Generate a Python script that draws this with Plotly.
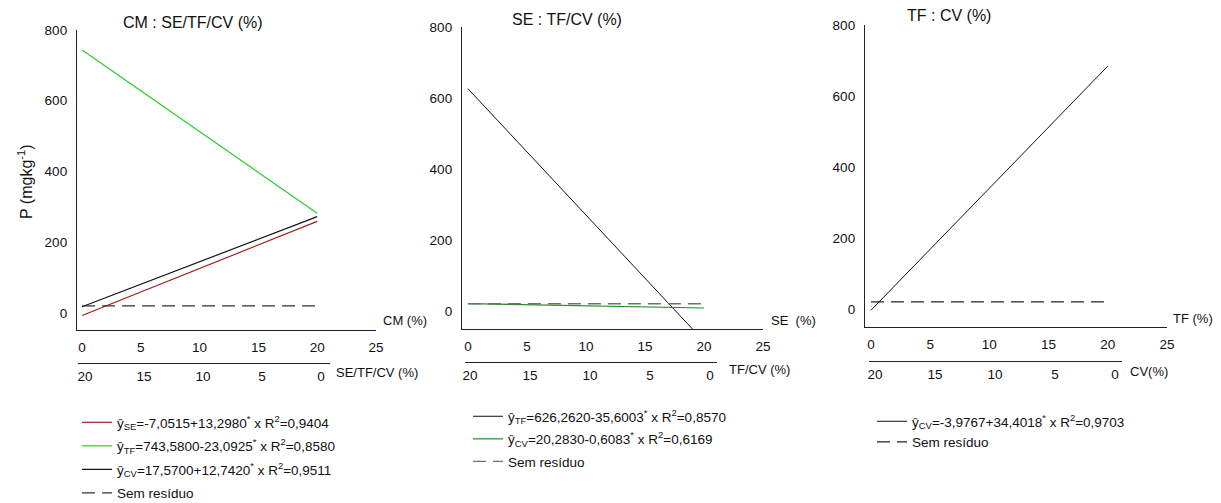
import plotly.graph_objects as go

W, H = 1221, 503
def px(x): return x / W
def py(y): return 1 - y / H

FONT = "Liberation Sans, Arial, Helvetica, sans-serif"

# ---------------- data ----------------
x_ends = [0, 20]
# Panel 1 : CM : SE/TF/CV
p1_se = [-7.05, 258.91]
p1_tf = [743.58, 281.73]
p1_cv = [17.57, 272.41]
p1_res = [20, 20]
# Panel 2 : SE : TF/CV
p2_tf = [626.26, -85.75]
p2_cv = [20.28, 8.12]
p2_res = [20, 20]
# Panel 3 : TF : CV
p3_cv = [-3.98, 684.06]
p3_res = [20, 20]

y_ticks = [0, 200, 400, 600, 800]
x_ticks = [0, 5, 10, 15, 20, 25]
x2_ticks = [20, 15, 10, 5, 0]

leg1 = ["ŷ<sub>SE</sub>=-7,0515+13,2980<sup>*</sup> x R<sup>2</sup>=0,9404",
        "ŷ<sub>TF</sub>=743,5800-23,0925<sup>*</sup> x R<sup>2</sup>=0,8580",
        "ŷ<sub>CV</sub>=17,5700+12,7420<sup>*</sup> x R<sup>2</sup>=0,9511",
        "Sem resíduo"]
leg2 = ["ŷ<sub>TF</sub>=626,2620-35,6003<sup>*</sup> x R<sup>2</sup>=0,8570",
        "ŷ<sub>CV</sub>=20,2830-0,6083<sup>*</sup> x R<sup>2</sup>=0,6169",
        "Sem resíduo"]
leg3 = ["ŷ<sub>CV</sub>=-3,9767+34,4018<sup>*</sup> x R<sup>2</sup>=0,9703",
        "Sem resíduo"]

RED = "#a3201f"
GREEN1 = "#2ccc2c"
GREEN2 = "#1f8f1f"
BLACK = "#111111"

fig = go.Figure()

_g = [0]
def line(x, y, color, name, xa, ya, legend, dash=None, width=1.2):
    _g[0] += 1
    fig.add_trace(go.Scatter(
        x=x, y=y, mode="lines", name=name, legendgroup=f"g{_g[0]}",
        line=dict(color=color, width=width, dash=dash),
        xaxis=xa, yaxis=ya, legend=legend, hoverinfo="skip"))

DASH = "13px,7px"
# panel 1
line(x_ends, p1_se, RED, leg1[0], "x", "y", "legend")
line(x_ends, p1_tf, GREEN1, leg1[1], "x", "y", "legend")
line(x_ends, p1_cv, BLACK, leg1[2], "x", "y", "legend")
line(x_ends, p1_res, "#333333", leg1[3], "x", "y", "legend", dash=DASH)
# panel 2
line(x_ends, p2_tf, BLACK, leg2[0], "x2", "y2", "legend2", width=1)
line(x_ends, p2_cv, GREEN2, leg2[1], "x2", "y2", "legend2")
line(x_ends, p2_res, "#707070", leg2[2], "x2", "y2", "legend2", dash=DASH, width=1.4)
# panel 3
line(x_ends, p3_cv, BLACK, leg3[0], "x3", "y3", "legend3", width=1)
line(x_ends, p3_res, "#222222", leg3[1], "x3", "y3", "legend3", dash=DASH)

# invisible traces to hold secondary (reversed) axes
for i in (4, 5, 6):
    fig.add_trace(go.Scatter(x=x2_ticks, y=[0] * len(x2_ticks), mode="markers",
                             marker=dict(opacity=0), showlegend=False,
                             hoverinfo="skip", xaxis=f"x{i}", yaxis=f"y{i}"))

tickfont = dict(family=FONT, size=13.5, color="#111")

def main_axes(n, xdom, ydom, xr, yr):
    s = "" if n == 1 else str(n)
    fig.layout[f"xaxis{s}"] = dict(
        domain=[px(xdom[0]), px(xdom[1])], range=xr, anchor=f"y{s}",
        showline=True, linecolor="#222", linewidth=1.3, showgrid=False,
        zeroline=False, ticks="", tickvals=x_ticks, tickfont=tickfont,
        ticklabelstandoff=5)
    fig.layout[f"yaxis{s}"] = dict(
        domain=[py(ydom[1]), py(ydom[0])], range=yr, anchor=f"x{s}",
        showline=True, linecolor="#222", linewidth=1.3, showgrid=False,
        zeroline=False, ticks="", tickvals=y_ticks, tickfont=tickfont,
        ticklabelstandoff=6)

main_axes(1, (77, 376), (30, 330), [-0.43, 25], [-48, 800])
main_axes(2, (462, 763), (27, 329), [-0.5, 25], [-51, 800])
main_axes(3, (865, 1167), (25, 327), [-0.5, 25], [-51, 800])

def sec_axis(n, xdom, yline, xr):
    fig.layout[f"xaxis{n}"] = dict(
        domain=[px(xdom[0]), px(xdom[1])], range=xr, anchor=f"y{n}",
        showline=True, linecolor="#222", linewidth=1.3, showgrid=False,
        zeroline=False, ticks="", tickvals=x2_ticks, tickfont=tickfont,
        ticklabelstandoff=1)
    fig.layout[f"yaxis{n}"] = dict(
        domain=[py(yline), py(yline) + 0.01], range=[0, 1], anchor=f"x{n}",
        visible=False, showgrid=False, zeroline=False)

sec_axis(4, (78, 330), 362.7, [20.6, -0.76])
sec_axis(5, (465, 717), 362, [20.42, -0.58])
sec_axis(6, (869, 1122), 361, [20.5, -0.58])

annos = []
def ann(text, x, y, size=13, xanchor="left", angle=0):
    annos.append(dict(text=text, x=px(x), y=py(y), xref="paper", yref="paper",
                      showarrow=False, xanchor=xanchor, yanchor="middle",
                      textangle=angle, font=dict(family=FONT, size=size, color="#111")))

ann("CM : SE/TF/CV (%)", 193, 22, 16, "center")
ann("SE : TF/CV (%)", 567, 20, 16, "center")
ann("TF : CV (%)", 949, 15, 16, "center")
ann("P (mgkg<sup>-1</sup>)", 25, 182, 16, "center", -90)
ann("CM (%)", 381, 320)
ann("SE  (%)", 769, 320)
ann("TF (%)", 1171, 318)
ann("SE/TF/CV (%)", 334, 372)
ann("TF/CV (%)", 727, 369)
ann("CV(%)", 1128, 371)

legfont = dict(family=FONT, size=13.5, color="#111")
fig.update_layout(
    width=W, height=H, margin=dict(l=0, r=0, t=0, b=0, autoexpand=False),
    paper_bgcolor="white", plot_bgcolor="white",
    annotations=annos,
    legend=dict(x=px(77), y=py(407), xanchor="left", yanchor="top",
                bgcolor="rgba(0,0,0,0)", font=legfont, tracegroupgap=3),
    legend2=dict(x=px(468), y=py(401), xanchor="left", yanchor="top",
                 bgcolor="rgba(0,0,0,0)", font=legfont, tracegroupgap=2),
    legend3=dict(x=px(872), y=py(406), xanchor="left", yanchor="top",
                 bgcolor="rgba(0,0,0,0)", font=legfont, tracegroupgap=0),
)

fig.write_html("out.html", config={"displayModeBar": False},
               post_script="document.body.style.margin='0';")
